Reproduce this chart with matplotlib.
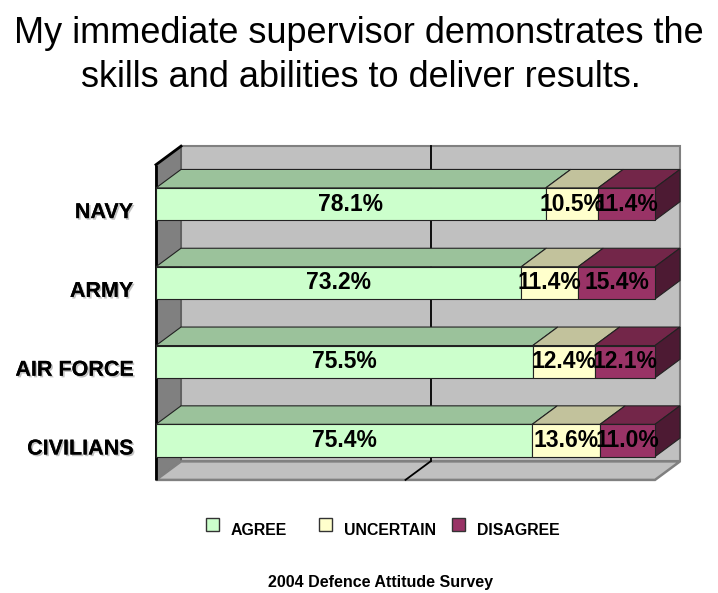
import matplotlib
matplotlib.use("Agg")
import matplotlib.pyplot as plt
from matplotlib.patches import Polygon, Rectangle
import matplotlib.patheffects as pe
from matplotlib import font_manager

# ---- data ----
categories = ["CIVILIANS", "AIR FORCE", "ARMY", "NAVY"]
agree = [75.4, 75.5, 73.2, 78.1]
uncertain = [13.6, 12.4, 11.4, 10.5]
disagree = [11.0, 12.1, 15.4, 11.4]
series_names = ["AGREE", "UNCERTAIN", "DISAGREE"]
title_lines = ["My immediate supervisor demonstrates the",
               "skills and abilities to deliver results."]
footer = "2004 Defence Attitude Survey"

# ---- font choice (condensed look if available) ----
try:
    font_manager.findfont(font_manager.FontProperties(family='Liberation Sans Narrow'),
                          fallback_to_default=False)
    FAM = ['Liberation Sans Narrow', 'Liberation Sans', 'DejaVu Sans']
    K = 1 / 0.82
except Exception:
    FAM = ['Liberation Sans', 'DejaVu Sans']
    K = 1.0
plt.rcParams['font.family'] = FAM

# ---- style ----
front_cols = ["#CCFFCC", "#FFFFCC", "#993366"]
top_cols = ["#9BC29B", "#C2C29C", "#732649"]
side_cols = ["#7A9A7A", "#9A9A7A", "#4D1A33"]
edge_col = "#222222"

W, H = 718, 593
fig = plt.figure(figsize=(W / 100, H / 100), dpi=100)
ax = fig.add_axes([0, 0, 1, 1])
pxx = 4.99        # px per percent
pxy = 78.8        # px per category step
x0px, y0px = 156, 440.5
ax.set_xlim(-x0px / pxx, (W - x0px) / pxx)
ax.set_ylim(-(H - y0px) / pxy, y0px / pxy)
ax.axis('off')

D = 25 / pxx      # depth offset x (data units)
E = 18.5 / pxy    # depth offset y (data units)
ylo, yhi = -0.5, len(categories) - 0.5
xmax = 100

# walls
ax.add_patch(Polygon([(D, ylo + E), (xmax + D, ylo + E), (xmax + D, yhi + E), (D, yhi + E)],
                     closed=True, fc="#C0C0C0", ec="#808080", lw=1.5, zorder=1))
ax.add_patch(Polygon([(0, ylo), (D, ylo + E), (D, yhi + E), (0, yhi)],
                     closed=True, fc="#808080", ec="#555555", lw=1.0, zorder=1))
ax.add_patch(Polygon([(0, ylo), (xmax, ylo), (xmax + D, ylo + E), (D, ylo + E)],
                     closed=True, fc="#C0C0C0", ec="#808080", lw=1.8, zorder=1))
ax.plot([0, 0], [ylo, yhi], color="black", lw=2.0, zorder=2, solid_capstyle='butt')
ax.plot([0, D], [yhi, yhi + E], color="black", lw=2.0, zorder=2)
# gridline at 50%
ax.plot([50 + D, 50 + D], [ylo + E, yhi + E], color="black", lw=1.3, zorder=1.5)
ax.plot([50, 50 + D], [ylo, ylo + E], color="black", lw=1.3, zorder=1.5)

# bars
h = 0.41
for i, cat in enumerate(categories):
    vals = [agree[i], uncertain[i], disagree[i]]
    b, t = i - h / 2, i + h / 2
    left = 0
    for k, v in enumerate(vals):
        r = left + v
        ax.add_patch(Polygon([(left, t), (r, t), (r + D, t + E), (left + D, t + E)],
                             closed=True, fc=top_cols[k], ec=edge_col, lw=0.8, zorder=3))
        ax.add_patch(Rectangle((left, b), v, h, fc=front_cols[k], ec=edge_col, lw=0.8, zorder=4))
        if k == len(vals) - 1:
            ax.add_patch(Polygon([(r, b), (r, t), (r + D, t + E), (r + D, b + E)],
                                 closed=True, fc=side_cols[k], ec=edge_col, lw=0.8, zorder=3))
        ax.text(left + v / 2, i, f"{v:.1f}%", ha='center', va='center',
                fontsize=16.5 * K, fontweight='bold', color='black', zorder=6)
        left = r
    ax.text(-23 / pxx, i - 14 / pxy, cat, ha='right', va='baseline',
            fontsize=15.5 * K, fontweight='bold', color='black', zorder=6,
            path_effects=[pe.withSimplePatchShadow(offset=(1.2, -1.2),
                                                   shadow_rgbFace='#888888', alpha=0.5),
                          pe.Normal()])

# title
fig.text(359 / W, 1 - 43 / H, title_lines[0], ha='center', va='baseline', fontsize=26 * K)
fig.text(361 / W, 1 - 87 / H, title_lines[1], ha='center', va='baseline', fontsize=26 * K)

# legend
sq_x = [206, 319, 452]
for k, name in enumerate(series_names):
    fig.patches.append(Rectangle((sq_x[k] / W, 1 - 531 / H), 13 / W, 13 / H,
                                 transform=fig.transFigure, fc=front_cols[k],
                                 ec="#333333", lw=1.0))
    fig.text((sq_x[k] + 25) / W, 1 - 535 / H, name, ha='left', va='baseline',
             fontsize=11.4 * K, fontweight='bold')

# footer
fig.text(381 / W, 1 - 587 / H, footer, ha='center', va='baseline',
         fontsize=11.5 * K, fontweight='bold')

fig.savefig("out.png", dpi=100)
